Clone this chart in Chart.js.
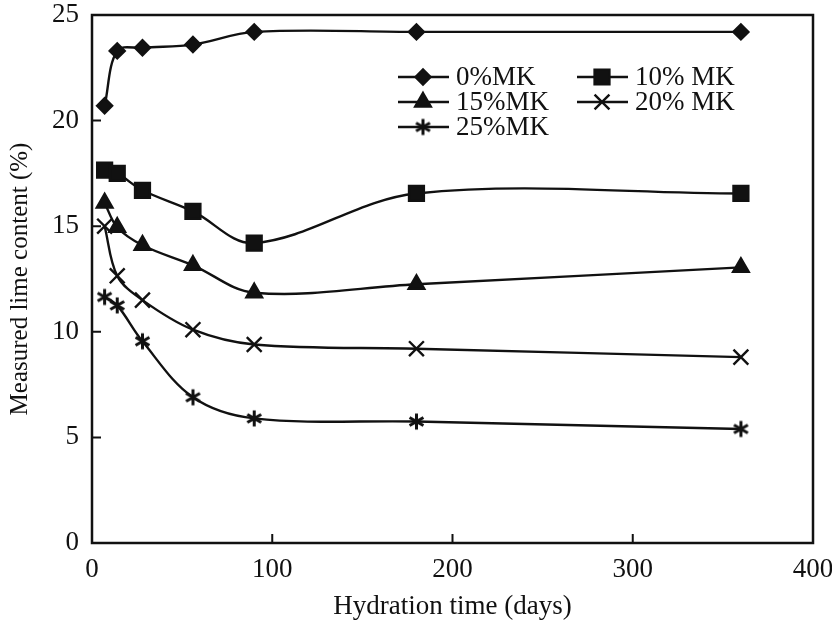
<!DOCTYPE html>
<html>
<head>
    <meta charset="utf-8">
    <title>Measured lime content</title>
    <style>
        body {
            margin: 0;
            background: white;
        }
        #wrap {
            width: 832px;
            height: 623px;
        }
    </style>
    <script src="https://cdn.jsdelivr.net/npm/chart.js@4.4.1/dist/chart.umd.min.js"></script>
</head>
<body>
    <div id="wrap"><canvas id="limeChart" width="832" height="623"></canvas></div>
    <script>
        // hydration ages (days) and lime content (%) for each metakaolin level
        const days = [7, 14, 28, 56, 90, 180, 360];
        const mk0 = [20.7, 23.3, 23.45, 23.6, 24.2, 24.2, 24.2];
        const mk10 = [17.65, 17.5, 16.7, 15.7, 14.2, 16.55, 16.55];
        const mk15 = [16.1, 14.95, 14.1, 13.15, 11.85, 12.25, 13.05];
        const mk20 = [15.0, 12.65, 11.5, 10.1, 9.4, 9.2, 8.8];
        const mk25 = [11.65, 11.25, 9.55, 6.9, 5.9, 5.75, 5.4];
        const seriesNames = ['0%MK', '10% MK', '15%MK', '20% MK', '25%MK'];
        const xTicks = [0, 100, 200, 300, 400];
        const yTicks = [0, 5, 10, 15, 20, 25];

        const serif = "'Liberation Serif', 'DejaVu Serif', serif";
        const ink = '#111';

        // six-armed asterisk marker
        function asterisk(size) {
            const c = document.createElement('canvas');
            c.width = size;
            c.height = size;
            const g = c.getContext('2d');
            const r = size / 2 - 1.5;
            g.strokeStyle = ink;
            g.lineWidth = 3;
            g.beginPath();
            [90, 30, -30].forEach(deg => {
                const a = deg * Math.PI / 180;
                g.moveTo(size / 2 - r * Math.cos(a), size / 2 - r * Math.sin(a));
                g.lineTo(size / 2 + r * Math.cos(a), size / 2 + r * Math.sin(a));
            });
            g.stroke();
            return c;
        }

        function makeSet(label, values, style, radius) {
            return {
                label: label,
                data: days.map((d, i) => ({ x: d, y: values[i] })),
                borderColor: ink,
                backgroundColor: ink,
                borderWidth: 2.4,
                pointStyle: style,
                pointRadius: radius,
                pointBorderWidth: 2.4,
                pointBorderColor: ink,
                pointBackgroundColor: ink,
                tension: 0.35,
                fill: false
            };
        }

        // box around the plot plus inward tick marks
        const frameTicks = {
            id: 'frameTicks',
            afterDraw(chart) {
                const { ctx, chartArea: a, scales } = chart;
                ctx.save();
                ctx.strokeStyle = ink;
                ctx.lineWidth = 2.5;
                ctx.strokeRect(a.left, a.top, a.right - a.left, a.bottom - a.top);
                ctx.lineWidth = 2;
                ctx.beginPath();
                xTicks.forEach(v => {
                    const px = scales.x.getPixelForValue(v);
                    ctx.moveTo(px, a.bottom);
                    ctx.lineTo(px, a.bottom - 9);
                });
                yTicks.forEach(v => {
                    const py = scales.y.getPixelForValue(v);
                    ctx.moveTo(a.left, py);
                    ctx.lineTo(a.left + 9, py);
                });
                ctx.stroke();
                ctx.restore();
            }
        };

        // two-column legend inside the plot
        const innerLegend = {
            id: 'innerLegend',
            afterDraw(chart) {
                const ctx = chart.ctx;
                const spots = [[398, 77], [577, 77], [398, 102], [577, 102], [398, 127]];
                ctx.save();
                ctx.font = '27px ' + serif;
                ctx.fillStyle = ink;
                ctx.textBaseline = 'middle';
                chart.data.datasets.forEach((ds, i) => {
                    const [x, y] = spots[i];
                    ctx.strokeStyle = ink;
                    ctx.lineWidth = 2.4;
                    ctx.beginPath();
                    ctx.moveTo(x, y);
                    ctx.lineTo(x + 51, y);
                    ctx.stroke();
                    Chart.helpers.drawPoint(ctx, {
                        pointStyle: ds.pointStyle,
                        radius: ds.pointRadius,
                        rotation: 0,
                        borderWidth: 2.4
                    }, x + 25, y);
                    ctx.fillText(ds.label, x + 58, y + 1);
                });
                ctx.restore();
            }
        };

        new Chart(document.getElementById('limeChart'), {
            type: 'line',
            data: {
                datasets: [
                    makeSet(seriesNames[0], mk0, 'rectRot', 7.5),
                    makeSet(seriesNames[1], mk10, 'rect', 10.5),
                    makeSet(seriesNames[2], mk15, 'triangle', 9),
                    makeSet(seriesNames[3], mk20, 'crossRot', 10.5),
                    makeSet(seriesNames[4], mk25, asterisk(19), 9.5)
                ]
            },
            options: {
                responsive: false,
                animation: false,
                layout: { padding: { left: 0, right: 19, top: 15, bottom: 0 } },
                plugins: {
                    legend: { display: false },
                    tooltip: { enabled: false }
                },
                scales: {
                    x: {
                        type: 'linear',
                        min: 0,
                        max: 400,
                        afterFit(scale) {
                            scale.height = 80;
                            scale.paddingLeft = 0;
                            scale.paddingRight = 0;
                        },
                        afterBuildTicks(scale) { scale.ticks = xTicks.map(v => ({ value: v })); },
                        grid: { display: false, drawTicks: false },
                        border: { display: false },
                        ticks: {
                            color: ink,
                            padding: 11,
                            maxRotation: 0,
                            font: { family: serif, size: 27 }
                        },
                        title: {
                            display: true,
                            text: 'Hydration time (days)',
                            color: ink,
                            padding: { top: 2, bottom: 0 },
                            font: { family: serif, size: 27 }
                        }
                    },
                    y: {
                        min: 0,
                        max: 25,
                        afterFit(scale) {
                            scale.width = 92;
                            scale.paddingTop = 0;
                            scale.paddingBottom = 0;
                        },
                        afterBuildTicks(scale) { scale.ticks = yTicks.map(v => ({ value: v })); },
                        grid: { display: false, drawTicks: false },
                        border: { display: false },
                        ticks: {
                            color: ink,
                            padding: 13,
                            font: { family: serif, size: 27 }
                        },
                        title: {
                            display: true,
                            text: 'Measured lime content (%)',
                            color: ink,
                            padding: { top: 5, bottom: 0 },
                            font: { family: serif, size: 25 }
                        }
                    }
                }
            },
            plugins: [frameTicks, innerLegend]
        });
    </script>
</body>
</html>
